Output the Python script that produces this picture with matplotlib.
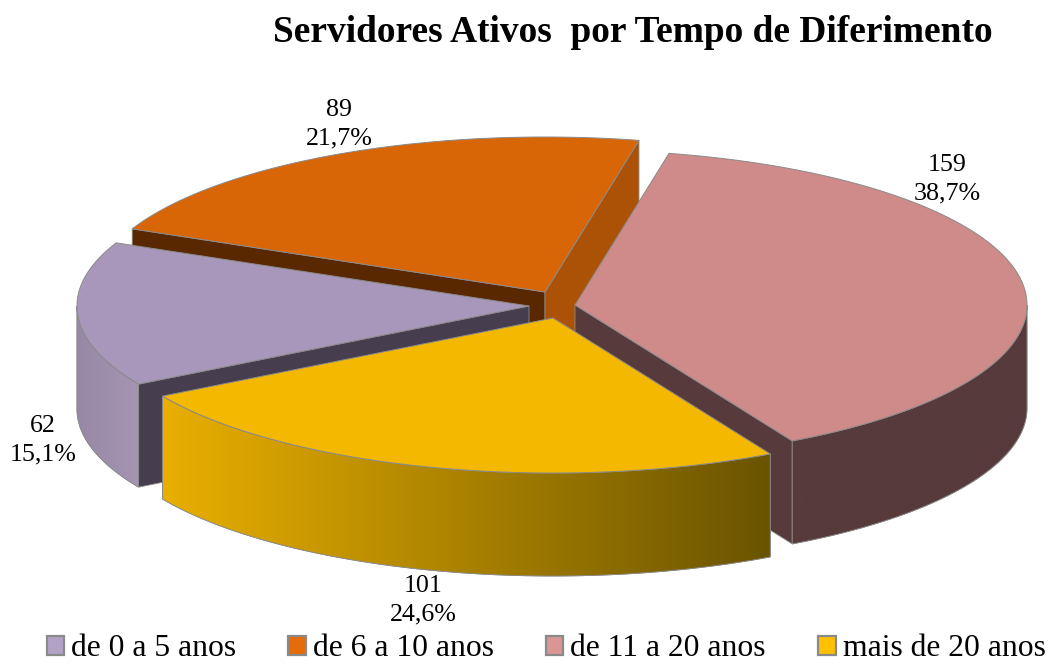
import numpy as np
import matplotlib
matplotlib.use('Agg')
import matplotlib.pyplot as plt
from matplotlib.colors import LinearSegmentedColormap
from matplotlib.patches import Patch, Polygon

title = 'Servidores Ativos  por Tempo de Diferimento'
categories = ['de 0 a 5 anos', 'de 6 a 10 anos', 'de 11 a 20 anos', 'mais de 20 anos']
values = [62, 89, 159, 101]

top_colors = ['#a897ba', '#d86607', '#ce8b89', '#f4b800']
legend_colors = ['#b3a2c7', '#e46c0a', '#d99694', '#ffc000']
start_wall_colors = ['#463e4f', '#592800', '#573a3b', '#806400']
end_wall_colors = ['#463e4f', '#ac5206', '#573a3b', '#806400']
side_colors = [('#9788a5', '#a595b3'), ('#592800', '#592800'),
               ('#573a3b', '#573a3b'), ('#e9af00', '#6a5400')]
edge = '#8a8a8a'

# layout, in pixels of the 1050x666 figure
center = (551, 305)
rx, ry = 452, 155
depth = 103
first_angle = 78  # the pink slice starts here
explode = [(-22, 1), (-6, -13), (24, 0), (2, 13)]
label_pos = [(43, 440), (339, 124), (947, 179), (423, 600)]
draw_order = [1, 2, 0, 3]

plt.rcParams['font.family'] = ['Liberation Serif', 'DejaVu Serif']

fig = plt.figure(figsize=(10.5, 6.66), dpi=100)
ax = fig.add_axes([0, 0, 1, 1])
ax.axis('off')

# slices run clockwise, the pink one starts at first_angle
total = sum(values)
spans = [v / total * 360 for v in values]
starts = {}
a = first_angle
for i in [2, 3, 0, 1]:
    starts[i] = a
    a -= spans[i]


def rim(cx, cy, t0, t1, dz=0):
    t = np.radians(np.linspace(t0, t1, 120))
    return np.column_stack([cx + rx * np.cos(t), cy - ry * np.sin(t) + dz])


def front_ranges(t0, t1):
    # parts of the clockwise arc t0 -> t1 where the rim faces the viewer
    out = []
    for k in range(-2, 2):
        lo, hi = -180 + 360 * k, 360 * k
        a0, a1 = min(t0, hi), max(t1, lo)
        if a0 > a1:
            out.append((a0, a1))
    return out


def wall(cx, cy, t, color):
    r = rim(cx, cy, t, t)[0]
    pts = [(cx, cy), r, (r[0], r[1] + depth), (cx, cy + depth)]
    ax.add_patch(Polygon(pts, closed=True, fc=color, ec=edge, lw=0.6, joinstyle='round'))


for i in draw_order:
    cx, cy = center[0] + explode[i][0], center[1] + explode[i][1]
    t0 = starts[i]
    t1 = t0 - spans[i]

    # cut faces, only the ones turned towards the viewer
    if np.sin(np.radians(t0 + 90)) < 0:
        wall(cx, cy, t0, start_wall_colors[i])
    if np.sin(np.radians(t1 - 90)) < 0:
        wall(cx, cy, t1, end_wall_colors[i])

    # outer side with its gradient
    for a0, a1 in front_ranges(t0, t1):
        upper = rim(cx, cy, a0, a1)
        lower = rim(cx, cy, a0, a1, depth)[::-1]
        pts = np.vstack([upper, lower])
        poly = Polygon(pts, closed=True, fc='none', ec=edge, lw=0.6, zorder=1)
        ax.add_patch(poly)
        cmap = LinearSegmentedColormap.from_list('side', side_colors[i])
        grad = np.linspace(0, 1, 256).reshape(1, -1)
        im = ax.imshow(grad, cmap=cmap, aspect='auto', zorder=1,
                       extent=(pts[:, 0].min(), pts[:, 0].max(), pts[:, 1].max(), pts[:, 1].min()))
        im.set_clip_path(poly)
        ax.add_patch(Polygon(pts, closed=True, fc='none', ec=edge, lw=0.6, zorder=1))

    top = np.vstack([[(cx, cy)], rim(cx, cy, t0, t1)])
    ax.add_patch(Polygon(top, closed=True, fc=top_colors[i], ec=edge, lw=0.7, zorder=1))

for i, v in enumerate(values):
    pct = f'{v / total * 100:.1f}'.replace('.', ',')
    ax.text(label_pos[i][0], label_pos[i][1], f'{v}\n{pct}%', ha='center', va='center',
            fontsize=18.7, color='black', linespacing=1.38)

ax.text(633, 33, title, ha='center', va='center', fontsize=26.9, fontweight='bold', color='black')

handles = [Patch(fc=c, ec=edge, lw=1.6) for c in legend_colors]
ax.legend(handles, categories, loc='lower center', bbox_to_anchor=(0.52, -0.02), ncol=4,
          frameon=False, fontsize=22.8, handlelength=0.55, handleheight=0.55,
          handletextpad=0.22, columnspacing=1.65, borderpad=0, labelcolor='black')

ax.set_xlim(0, 1050)
ax.set_ylim(666, 0)
fig.savefig('out.png', dpi=100, facecolor='white')
